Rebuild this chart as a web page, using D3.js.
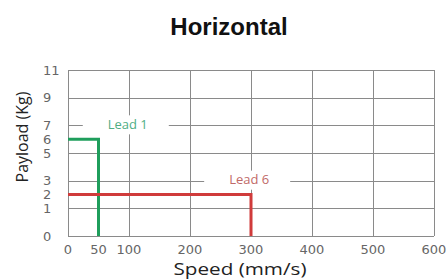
<!DOCTYPE html>
<html>
<head>
<meta charset="utf-8">
<script src="https://cdn.jsdelivr.net/npm/d3@7"></script>
<style>
  body { margin: 0; background: #fff; }
  .tick-label { font-family: "DejaVu Sans", sans-serif; font-size: 13px; fill: #666; }
  .axis-title { font-family: "Open Sans", sans-serif; font-size: 16px; fill: #222; }
</style>
</head>
<body>
<div id="chart"></div>
<script>
// chart data
var xTicks = [0, 50, 100, 200, 300, 400, 500, 600];
var xGrid = [0, 100, 200, 300, 400, 500, 600];
var yTicks = [0, 1, 2, 3, 5, 6, 7, 9, 11];
var yGrid = [0, 1, 3, 5, 7, 9, 11];
var leads = ["Lead 1", "Lead 6"];
var maxSpeed = [50, 300];
var maxPayload = [6, 2];
var leadColors = ["#1f9e5c", "#d03b3b"];
var labelColors = ["#4fae84", "#bf6a68"];

var svgWidth = 448;
var svgHeight = 280;
var margin = { top: 70, right: 14, bottom: 44, left: 68 };
var chartWidth = svgWidth - margin.left - margin.right;
var chartHeight = svgHeight - margin.top - margin.bottom;

var svg = d3.select("#chart")
  .append("svg")
  .attr("width", svgWidth)
  .attr("height", svgHeight);

var chart = svg.append("g")
  .attr("transform", `translate(${margin.left}, ${margin.top})`);

var x = d3.scaleLinear()
  .domain([0, 600])
  .range([0, chartWidth]);

// y axis: gap 0-1 drawn as wide as the 2-unit steps above it
var step = chartHeight / 6;
var y = d3.scaleLinear()
  .domain([0, 1, 11])
  .range([chartHeight, chartHeight - step, 0]);

// grid
chart.selectAll(".hgrid")
  .data(yGrid)
  .enter()
  .append("line")
  .attr("x1", 0)
  .attr("x2", chartWidth)
  .attr("y1", d => Math.round(y(d)) + 0.5)
  .attr("y2", d => Math.round(y(d)) + 0.5)
  .attr("stroke", "#8a8a8a")
  .attr("stroke-width", 1);

chart.selectAll(".vgrid")
  .data(xGrid)
  .enter()
  .append("line")
  .attr("x1", d => Math.round(x(d)) + 0.5)
  .attr("x2", d => Math.round(x(d)) + 0.5)
  .attr("y1", 0)
  .attr("y2", chartHeight)
  .attr("stroke", "#8a8a8a")
  .attr("stroke-width", 1);

// label boxes that break the grid
var labelPos = [
  { x: 98, y: 7 },
  { x: 297, y: 3 }
];

var labels = chart.selectAll(".lead-label")
  .data(leads)
  .enter()
  .append("g");

labels.append("rect")
  .attr("x", (d, i) => x(labelPos[i].x) - 45)
  .attr("y", (d, i) => y(labelPos[i].y) - 10)
  .attr("width", 86)
  .attr("height", 19)
  .attr("fill", "#fff");

labels.append("text")
  .attr("x", (d, i) => x(labelPos[i].x))
  .attr("y", (d, i) => y(labelPos[i].y) - 1)
  .attr("dy", "0.35em")
  .attr("text-anchor", "middle")
  .attr("font-family", "Open Sans, sans-serif")
  .attr("font-size", 13)
  .attr("fill", (d, i) => labelColors[i])
  .text(d => d);

// lead envelopes
chart.selectAll(".lead-line")
  .data(leads)
  .enter()
  .append("path")
  .attr("d", (d, i) => d3.line()([
    [x(0), y(maxPayload[i])],
    [x(maxSpeed[i]), y(maxPayload[i])],
    [x(maxSpeed[i]), y(0)]
  ]))
  .attr("fill", "none")
  .attr("stroke", (d, i) => leadColors[i])
  .attr("stroke-width", 3);

// tick labels
chart.selectAll(".xtick")
  .data(xTicks)
  .enter()
  .append("text")
  .attr("class", "tick-label")
  .attr("x", d => x(d))
  .attr("y", chartHeight + 18)
  .attr("text-anchor", "middle")
  .text(d => d);

chart.selectAll(".ytick")
  .data(yTicks)
  .enter()
  .append("text")
  .attr("class", "tick-label")
  .attr("x", -25)
  .attr("y", d => y(d))
  .attr("dy", "0.35em")
  .text(d => d);

// titles
svg.append("text")
  .attr("x", 229)
  .attr("y", 35)
  .attr("text-anchor", "middle")
  .attr("font-family", "Liberation Sans, Arial, sans-serif")
  .attr("font-weight", "bold")
  .attr("font-size", 24)
  .attr("fill", "#111")
  .text("Horizontal");

svg.append("text")
  .attr("class", "axis-title")
  .attr("x", 240)
  .attr("y", 275)
  .attr("text-anchor", "middle")
  .attr("textLength", 133)
  .attr("lengthAdjust", "spacingAndGlyphs")
  .text("Speed (mm/s)");

svg.append("text")
  .attr("class", "axis-title")
  .attr("transform", "rotate(-90)")
  .attr("x", -137)
  .attr("y", 28)
  .attr("text-anchor", "middle")
  .text("Payload (Kg)");
</script>
</body>
</html>
